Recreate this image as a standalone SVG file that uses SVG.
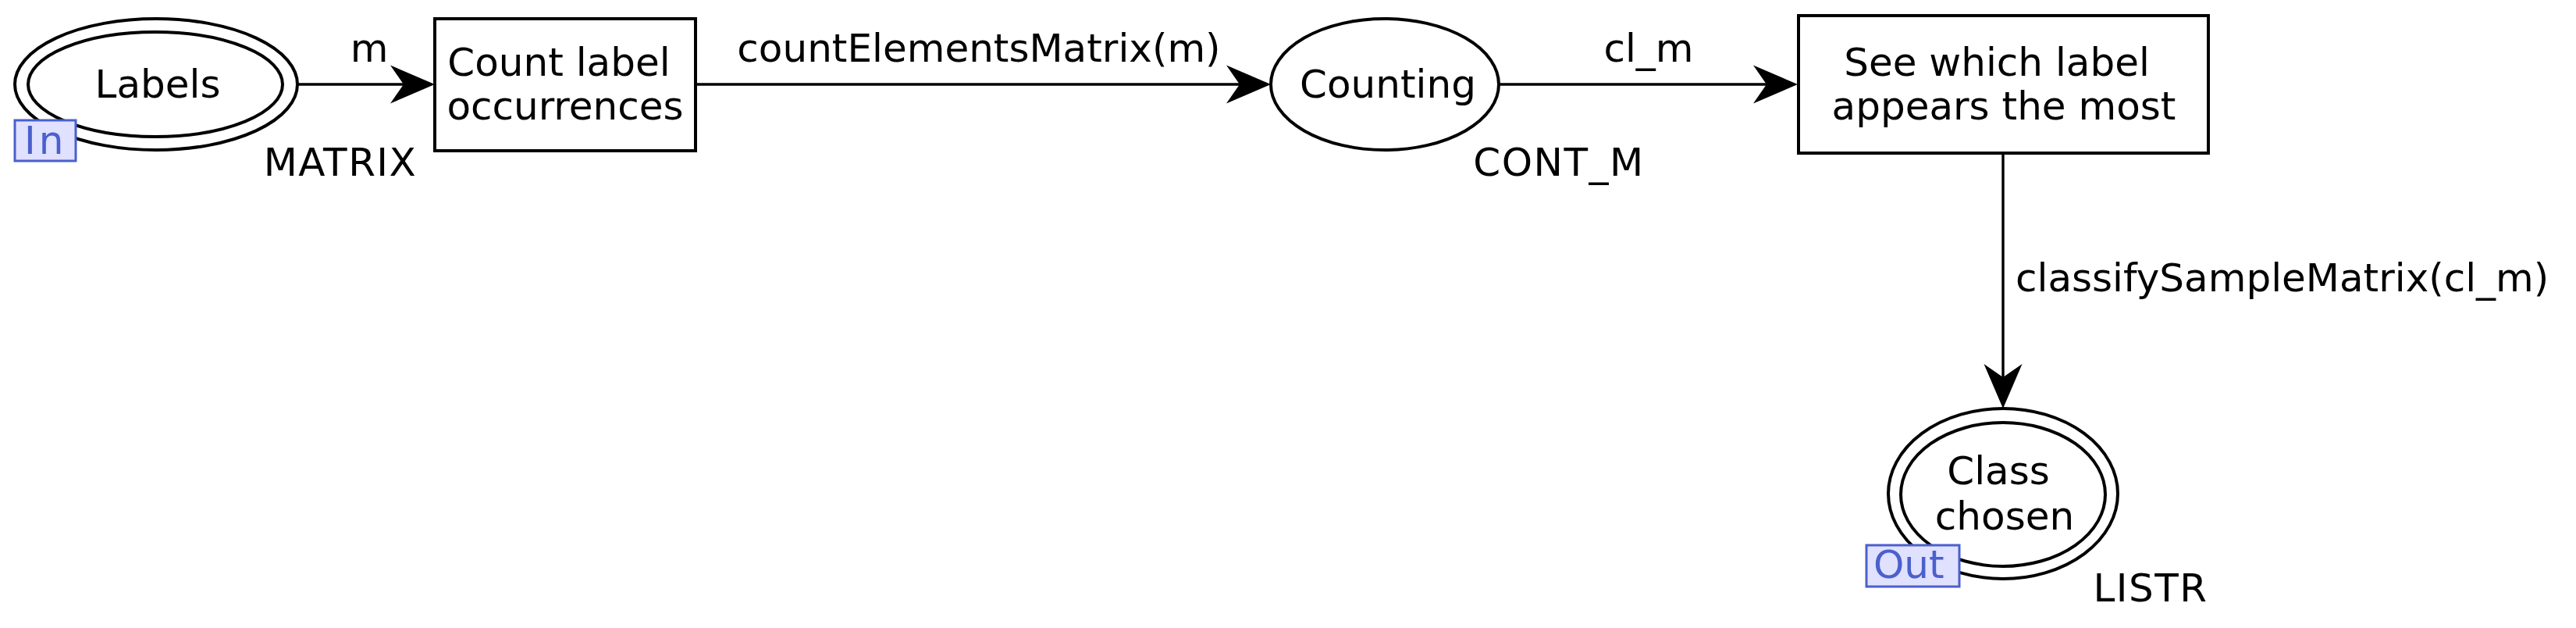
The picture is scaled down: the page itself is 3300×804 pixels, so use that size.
<svg xmlns="http://www.w3.org/2000/svg" width="3300" height="804" viewBox="0 0 3300 804">
<style>
text{font-family:"DejaVu Sans","Liberation Sans",sans-serif;font-size:50px;fill:#000}
.node{fill:#fff;stroke:#000;stroke-width:4}
.edge{fill:none;stroke:#000;stroke-width:3.4}
.port{fill:#e0e0ff;stroke:#4a60cc;stroke-width:3}
.porttxt{fill:#4a60cc}
.type{text-anchor:middle;letter-spacing:1.5px}
.m{text-anchor:middle}
</style>
<defs>
<marker id="arr" viewBox="-60 -26 62 52" markerWidth="62" markerHeight="52" refX="-40" refY="0" orient="auto" markerUnits="userSpaceOnUse">
<path d="M0,0 L-57,-24.5 L-40,0 L-57,24.5 Z" fill="#000"/>
</marker>
</defs>
<rect width="3300" height="804" fill="#fff"/>
<g id="connectors">
<line class="edge" x1="381" y1="108" x2="517" y2="108" marker-end="url(#arr)"/>
<text class="m" x="473" y="79">m</text>
<line class="edge" x1="891" y1="108" x2="1588" y2="108" marker-end="url(#arr)"/>
<text class="m" x="1254" y="79">countElementsMatrix(m)</text>
<line class="edge" x1="1920" y1="108" x2="2263" y2="108" marker-end="url(#arr)"/>
<text class="m" x="2112" y="79">cl_m</text>
<line class="edge" x1="2566" y1="196" x2="2566" y2="483" marker-end="url(#arr)"/>
<text x="2582" y="373">classifySampleMatrix(cl_m)</text>
</g>
<g id="node-labels">
<ellipse class="node" cx="200" cy="108" rx="181" ry="84"/>
<ellipse class="node" cx="199" cy="108" rx="163" ry="67"/>
<text class="m" x="202" y="125">Labels</text>
<rect class="port" x="19" y="154" width="78" height="52"/>
<text class="porttxt" x="31" y="197" letter-spacing="4">In</text>
<text class="type" x="436" y="225">MATRIX</text>
</g>
<g id="node-count">
<rect class="node" x="557" y="24" width="334" height="169"/>
<text class="m" x="716" y="97">Count label</text>
<text class="m" x="724" y="153">occurrences</text>
</g>
<g id="node-counting">
<ellipse class="node" cx="1774" cy="108" rx="146" ry="84"/>
<text class="m" x="1778" y="125">Counting</text>
<text class="type" x="1997" y="225">CONT_M</text>
</g>
<g id="node-see">
<rect class="node" x="2304" y="20" width="525" height="176"/>
<text class="m" x="2558" y="97">See which label</text>
<text class="m" x="2567" y="153">appears the most</text>
</g>
<g id="node-class">
<ellipse class="node" cx="2566" cy="632" rx="147" ry="109"/>
<ellipse class="node" cx="2566" cy="633" rx="131" ry="92"/>
<text class="m" x="2560" y="620">Class</text>
<text class="m" x="2568" y="678">chosen</text>
<rect class="port" x="2391" y="698" width="119" height="53"/>
<text class="porttxt" x="2400" y="740">Out</text>
<text class="type" x="2755" y="770">LISTR</text>
</g>
</svg>
